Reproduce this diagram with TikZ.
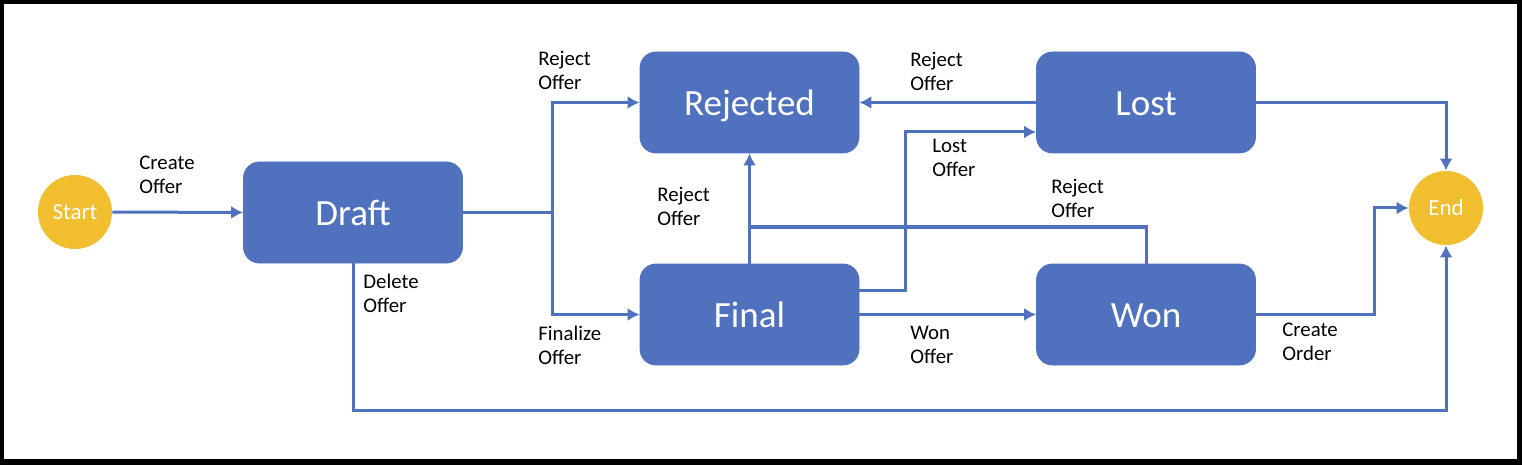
\documentclass[tikz,border=0pt]{standalone}
\usepackage{fontspec}
\setmainfont{Carlito}
\usetikzlibrary{arrows.meta}
\definecolor{stateblue}{RGB}{79,113,190}
\definecolor{termyellow}{RGB}{240,190,46}

\begin{document}
\begin{tikzpicture}[x=0.5pt, y=-0.5pt, >={Latex[length=6pt,width=6.5pt]},
    state/.style={fill=stateblue, draw=stateblue, rounded corners=8pt, minimum width=109.5pt, minimum height=50.5pt, inner sep=0, text height=17.6pt, text depth=4.2pt, text=white, font=\fontsize{18.5}{22}\selectfont},
    term/.style={circle, fill=termyellow, minimum size=37pt, inner sep=0, text height=10pt, text depth=2.6pt, text=white, font=\fontsize{11.5}{14}\selectfont},
    flow/.style={stateblue, line width=1.5pt},
    lbl/.style={anchor=north west, align=left, inner sep=0, font=\fontsize{10.4}{12}\selectfont}]
    \fill[black] (0,0) rectangle (1522,465);
    \fill[white] (4,4) rectangle (1517,459);
    % states
    \node[term] (start) at (75,212) {Start};
    \node[state] (draft) at (353,212.5) {Draft};
    \node[state] (rejected) at (749.5,102.5) {Rejected};
    \node[state] (final) at (749.5,314.5) {Final};
    \node[state] (lost) at (1146,102.5) {Lost};
    \node[state] (won) at (1146,314.5) {Won};
    \node[term] (end) at (1446,208) {End};
    % bends
    \coordinate (split) at (552,212.5);
    \coordinate (rejoin) at (749.5,227);
    \coordinate (lostlow) at (905,290);
    \coordinate (losthigh) at (905,132);
    \coordinate (orderbend) at (1374,314.5);
    \coordinate (deletebend) at (353,410);
    % transitions
    \draw[flow, ->] (start.east) -- (draft.west);
    \draw[flow] (draft.east) -- (split);
    \draw[flow, ->] (split) |- (rejected.west);
    \draw[flow, ->] (split) |- (final.west);
    \draw[flow, ->] (final.north) -- (rejected.south);
    \draw[flow] (won.north) |- (rejoin);
    \draw[flow, ->] (final.east |- lostlow) -- (lostlow) -- (losthigh) -- (lost.west |- losthigh);
    \draw[flow, ->] (final.east) -- (won.west);
    \draw[flow, ->] (lost.west) -- (rejected.east);
    \draw[flow, ->] (lost.east) -| (end.north);
    \draw[flow, ->] (won.east) -- (orderbend) |- (end.west);
    \draw[flow, ->] (draft.south) -- (deletebend) -| (end.south);
    % labels
    \node[lbl] (createlbl) at (139,156) {Create\\Offer};
    \node[lbl] (deletelbl) at (363,274) {Delete\\Offer};
    \node[lbl] (rejectlbl) at (538,51) {Reject\\Offer};
    \node[lbl] (finalizelbl) at (538,326) {Finalize\\Offer};
    \node[lbl] (rejectfinallbl) at (657,187) {Reject\\Offer};
    \node[lbl] (rejectlostlbl) at (910,52) {Reject\\Offer};
    \node[lbl] (lostlbl) at (932,139) {Lost\\Offer};
    \node[lbl] (wonlbl) at (910,326) {Won\\Offer};
    \node[lbl] (rejectwonlbl) at (1051,179) {Reject\\Offer};
    \node[lbl] (orderlbl) at (1282,323) {Create\\Order};
\end{tikzpicture}
\end{document}
